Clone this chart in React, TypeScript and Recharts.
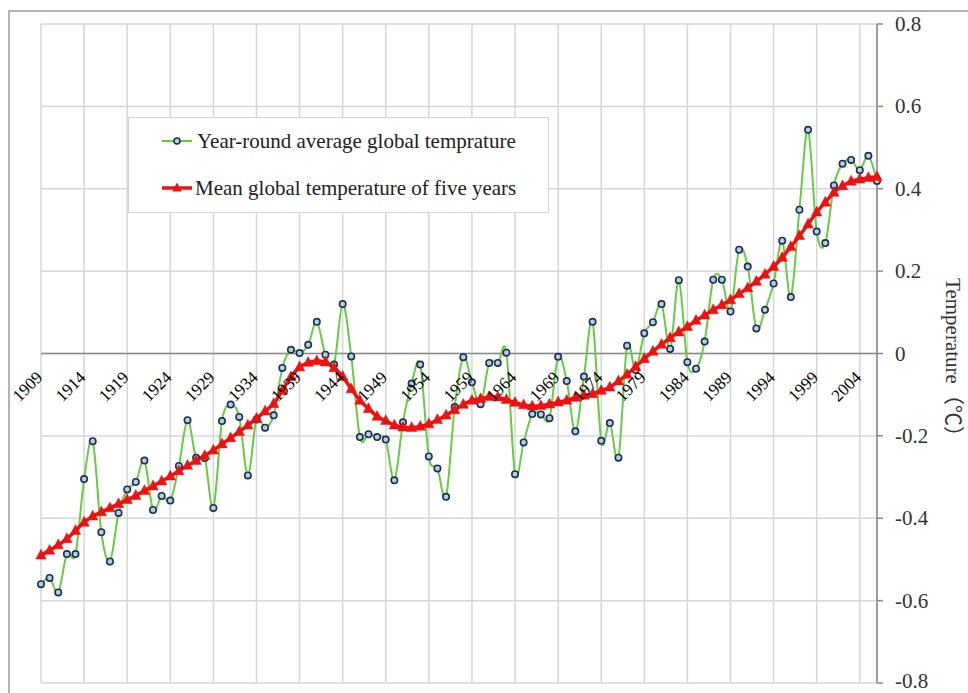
import React from "react";
import {
  LineChart,
  Line,
  XAxis,
  YAxis,
  CartesianGrid,
  ReferenceLine,
  Legend,
} from "recharts";

// ---------- data ----------
const years: number[] = [];
for (let y = 1909; y <= 2006; y++) years.push(y);

const annualTemp: number[] = [
  -0.56, -0.545, -0.58, -0.487, -0.487, -0.305, -0.213, -0.434, -0.505, -0.387,
  -0.33, -0.312, -0.26, -0.38, -0.346, -0.357, -0.273, -0.162, -0.253, -0.254,
  -0.375, -0.164, -0.124, -0.154, -0.296, -0.16, -0.18, -0.15, -0.035, 0.009,
  0.001, 0.021, 0.077, -0.003, -0.027, 0.12, -0.007, -0.203, -0.196, -0.203,
  -0.209, -0.308, -0.167, -0.073, -0.027, -0.25, -0.279, -0.348, -0.13, -0.009,
  -0.07, -0.123, -0.023, -0.023, 0.002, -0.293, -0.216, -0.147, -0.148, -0.157,
  -0.008, -0.067, -0.189, -0.056, 0.077, -0.212, -0.169, -0.253, 0.019, -0.04,
  0.049, 0.076, 0.12, 0.011, 0.178, -0.021, -0.037, 0.029, 0.179, 0.179,
  0.102, 0.252, 0.211, 0.061, 0.106, 0.17, 0.274, 0.137, 0.349, 0.543,
  0.296, 0.268, 0.408, 0.461, 0.47, 0.445, 0.48, 0.419,
];

const fiveYearMean: number[] = [
  -0.49, -0.478, -0.465, -0.45, -0.43, -0.41, -0.395, -0.385, -0.375, -0.365,
  -0.355, -0.345, -0.333, -0.322, -0.31, -0.298, -0.285, -0.272, -0.26, -0.248,
  -0.235, -0.22, -0.205, -0.19, -0.174, -0.158, -0.14, -0.122, -0.09, -0.057,
  -0.033, -0.022, -0.018, -0.021, -0.035, -0.056, -0.086, -0.114, -0.134, -0.153,
  -0.163, -0.174, -0.179, -0.18, -0.177, -0.171, -0.161, -0.15, -0.137, -0.124,
  -0.114, -0.11, -0.105, -0.106, -0.112, -0.119, -0.125, -0.128, -0.127, -0.123,
  -0.118, -0.114, -0.107, -0.102, -0.098, -0.09, -0.082, -0.067, -0.051, -0.032,
  -0.013, 0.005, 0.022, 0.038, 0.052, 0.065, 0.08, 0.093, 0.106, 0.118,
  0.13, 0.145, 0.159, 0.175, 0.192, 0.211, 0.233, 0.259, 0.286, 0.314,
  0.343, 0.367, 0.391, 0.407, 0.418, 0.423, 0.427, 0.429,
];

const xTicks: number[] = [1909, 1914, 1919, 1924, 1929, 1934, 1939, 1944, 1949, 1954, 1959, 1964, 1969, 1974, 1979, 1984, 1989, 1994, 1999, 2004];
const yTicks: number[] = [-0.8, -0.6, -0.4, -0.2, 0, 0.2, 0.4, 0.6, 0.8];

const seriesNames = [
  "Year-round average global temprature",
  "Mean global temperature of five years",
];
const yTitle = "Temperature\uff08\u2103\uff09";

const tableData = years.map((year, i) => ({
  year,
  annual: annualTemp[i],
  mean: fiveYearMean[i],
}));

// ---------- layout ----------
const W = 958;
const H = 690;
const MARGIN = { top: 12, left: 31, right: 31, bottom: 18 };
const X_AXIS_H = 1;
const Y_AXIS_W = 60;
const PLOT_TOP = MARGIN.top;
const PLOT_BOTTOM = H - MARGIN.bottom - X_AXIS_H;
const ZERO_Y = (PLOT_TOP + PLOT_BOTTOM) / 2;

const FONT = "Liberation Serif, Times New Roman, serif";
const TITLE_FONT = "Liberation Serif, Noto Sans CJK SC, serif";
const GREEN = "#66cc44";
const RED = "#ee1111";
const NAVY = "#1d3050";

// Excel-like smoothed line (Catmull-Rom)
const smoothCurve = (context: any) => {
  let pts: number[][] = [];
  return {
    areaStart() {},
    areaEnd() {},
    lineStart() {
      pts = [];
    },
    point(x: number, y: number) {
      pts.push([+x, +y]);
    },
    lineEnd() {
      const n = pts.length;
      if (n === 0) return;
      context.moveTo(pts[0][0], pts[0][1]);
      if (n === 1) return;
      for (let i = 0; i < n - 1; i++) {
        const p0 = pts[i === 0 ? 0 : i - 1];
        const p1 = pts[i];
        const p2 = pts[i + 1];
        const p3 = pts[i + 2 < n ? i + 2 : n - 1];
        const c1x = p1[0] + (p2[0] - p0[0]) / 6;
        const c1y = p1[1] + (p2[1] - p0[1]) / 6;
        const c2x = p2[0] - (p3[0] - p1[0]) / 6;
        const c2y = p2[1] - (p3[1] - p1[1]) / 6;
        context.bezierCurveTo(c1x, c1y, c2x, c2y, p2[0], p2[1]);
      }
    },
  };
};

const renderTriangle = (p: any) => {
  const { cx, cy, index } = p;
  if (cx == null || cy == null) return <g key={`t-${index}`} />;
  return (
    <polygon
      key={`t-${index}`}
      points={`${cx},${cy - 6} ${cx - 5.2},${cy + 3.8} ${cx + 5.2},${cy + 3.8}`}
      fill={RED}
      stroke={RED}
      strokeWidth={0.5}
    />
  );
};

const renderXTick = (p: any) => {
  const { x, payload, index } = p;
  const tx = x + 2.5;
  const ty = ZERO_Y + 25;
  return (
    <text
      key={`xt-${index}`}
      x={tx}
      y={ty}
      transform={`rotate(-45, ${tx}, ${ty})`}
      textAnchor="end"
      fontFamily={FONT}
      fontSize={17}
      fill="#000"
    >
      {payload.value}
    </text>
  );
};

const renderYTick = (p: any) => {
  const { x, y, payload, index } = p;
  const v = payload.value;
  const label = Math.abs(v) < 1e-9 ? "0" : v.toFixed(1);
  // keep the lowest label inside the picture
  const yy = v <= -0.8 ? y - 2 : y;
  return (
    <text
      key={`yt-${index}`}
      x={x}
      y={yy}
      textAnchor="start"
      dominantBaseline="central"
      fontFamily={FONT}
      fontSize={21}
      fill="#333"
    >
      {label}
    </text>
  );
};

const renderYTitle = (p: any) => {
  const vb = p.viewBox || {};
  const x = vb.x + 76;
  const y = vb.y + vb.height / 2 + 9;
  return (
    <text
      x={x}
      y={y}
      transform={`rotate(90, ${x}, ${y})`}
      textAnchor="middle"
      dominantBaseline="central"
      fontFamily={TITLE_FONT}
      fontSize={21}
      fill="#333"
    >
      {yTitle}
    </text>
  );
};

const LegendBox = () => (
  <svg width={421} height={96} style={{ display: "block" }}>
    <rect x={0.5} y={0.5} width={420} height={95} fill="#fff" stroke="#d4d4d4" strokeWidth={1} />
    <line x1={34} y1={24} x2={64} y2={24} stroke={GREEN} strokeWidth={2} />
    <circle cx={49} cy={24} r={3} fill="#b7cde3" stroke={NAVY} strokeWidth={1.5} />
    <text x={69} y={24} dominantBaseline="central" fontFamily={FONT} fontSize={21} fill="#222">
      {seriesNames[0]}
    </text>
    <line x1={34} y1={71} x2={64} y2={71} stroke={RED} strokeWidth={3.5} />
    <polygon points="49,65.5 44.2,74.5 53.8,74.5" fill={RED} />
    <text x={67} y={71} dominantBaseline="central" fontFamily={FONT} fontSize={21} fill="#222">
      {seriesNames[1]}
    </text>
  </svg>
);

export default function App() {
  return (
    <div style={{ paddingTop: 10, paddingLeft: 8, width: 960, height: 683, overflow: "visible" }}>
      <style>{`html{overflow:hidden;} body{margin:0;}`}</style>
      <div
        style={{
          borderTop: "2px solid #b4b4b4",
          borderLeft: "2px solid #b4b4b4",
          width: 958,
          height: 681,
          background: "#fff",
        }}
      >
        <LineChart width={W} height={H} data={tableData} margin={MARGIN} style={{ overflow: "visible" }}>
          <CartesianGrid stroke="#d6d6d6" strokeWidth={1.5} />
          <XAxis
            dataKey="year"
            type="number"
            domain={[1909, 2006]}
            ticks={xTicks}
            interval={0}
            height={X_AXIS_H}
            axisLine={false}
            tickLine={false}
            tick={renderXTick}
          />
          <YAxis
            orientation="right"
            width={Y_AXIS_W}
            domain={[-0.8, 0.8]}
            ticks={yTicks}
            interval={0}
            axisLine={{ stroke: "#8a8a8a", strokeWidth: 1.5 }}
            tickLine={{ stroke: "#8a8a8a", strokeWidth: 1.5 }}
            tickSize={6}
            tickMargin={12}
            tick={renderYTick}
            label={renderYTitle}
          />
          <ReferenceLine y={0} stroke="#8a8a8a" strokeWidth={1.5} />
          <Legend
            layout="vertical"
            align="center"
            verticalAlign="middle"
            wrapperStyle={{ left: 118, top: 105, width: 421, height: 96 }}
            content={() => <LegendBox />}
          />
          <Line
            dataKey="annual"
            name={seriesNames[0]}
            type={smoothCurve as any}
            stroke={GREEN}
            strokeWidth={2}
            dot={{ r: 3.2, fill: "#b7cde3", stroke: NAVY, strokeWidth: 1.6 }}
            activeDot={false}
            isAnimationActive={false}
          />
          <Line
            dataKey="mean"
            name={seriesNames[1]}
            type={smoothCurve as any}
            stroke={RED}
            strokeWidth={3.5}
            dot={renderTriangle}
            activeDot={false}
            isAnimationActive={false}
          />
        </LineChart>
      </div>
    </div>
  );
}
